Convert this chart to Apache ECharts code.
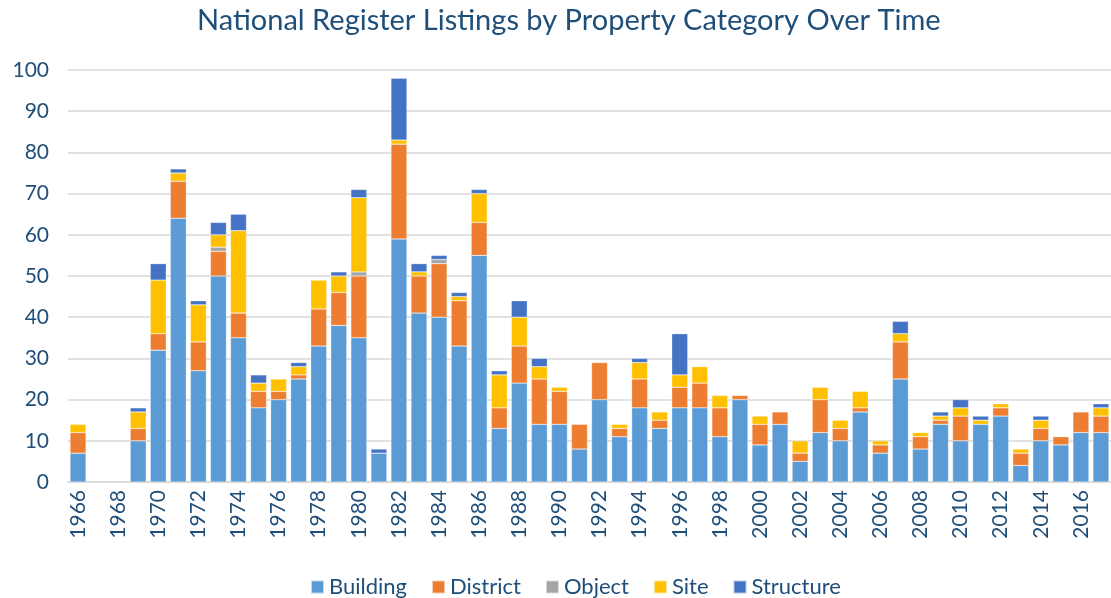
<!DOCTYPE html>
<html>
<head>
<meta charset="utf-8">
<script src="https://cdn.jsdelivr.net/npm/echarts@6/dist/echarts.min.js"></script>
<style>
  html, body { margin: 0; padding: 0; background: #fff; }
  #chart { width: 1111px; height: 598px; }
</style>
</head>
<body>
<div id="chart"></div>
<script>
const years = []
for (let y = 1966; y <= 2017; y++) years.push(String(y))

// values, 1966..2017
const building = [7, 0, 0, 10, 32, 64, 27, 50, 35, 18, 20, 25, 33, 38, 35, 7, 59, 41, 40, 33, 55, 13, 24, 14, 14, 8, 20, 11, 18, 13, 18, 18, 11, 20, 9, 14, 5, 12, 10, 17, 7, 25, 8, 14, 10, 14, 16, 4, 10, 9, 12, 12]
const district = [5, 0, 0, 3, 4, 9, 7, 6, 6, 4, 2, 1, 9, 8, 15, 0, 23, 9, 13, 11, 8, 5, 9, 11, 8, 6, 9, 2, 7, 2, 5, 6, 7, 1, 5, 3, 2, 8, 3, 1, 2, 9, 3, 1, 6, 0, 2, 3, 3, 2, 5, 4]
const object = [0, 0, 0, 0, 0, 0, 0, 1, 0, 0, 0, 0, 0, 0, 1, 0, 0, 0, 1, 0, 0, 0, 0, 0, 0, 0, 0, 0, 0, 0, 0, 0, 0, 0, 0, 0, 0, 0, 0, 0, 0, 0, 0, 0, 0, 0, 0, 0, 0, 0, 0, 0]
const site = [2, 0, 0, 4, 13, 2, 9, 3, 20, 2, 3, 2, 7, 4, 18, 0, 1, 1, 0, 1, 7, 8, 7, 3, 1, 0, 0, 1, 4, 2, 3, 4, 3, 0, 2, 0, 3, 3, 2, 4, 1, 2, 1, 1, 2, 1, 1, 1, 2, 0, 0, 2]
const structure = [0, 0, 0, 1, 4, 1, 1, 3, 4, 2, 0, 1, 0, 1, 2, 1, 15, 2, 1, 1, 1, 1, 4, 2, 0, 0, 0, 0, 1, 0, 10, 0, 0, 0, 0, 0, 0, 0, 0, 0, 0, 3, 0, 1, 2, 1, 0, 0, 1, 0, 0, 1]

const seriesDefs = [
  { name: 'Building', data: building, color: '#5B9BD5' },
  { name: 'District', data: district, color: '#ED7D31' },
  { name: 'Object', data: object, color: '#A5A5A5' },
  { name: 'Site', data: site, color: '#FFC000' },
  { name: 'Structure', data: structure, color: '#4472C4' },
]

const textColor = '#1F4E79'
const font = 'Lato, "Open Sans", sans-serif'

const chart = echarts.init(document.getElementById('chart'), null, { renderer: 'canvas' })
chart.setOption({
  animation: false,
  backgroundColor: '#fff',
  textStyle: { fontFamily: font },
  title: {
    text: 'National Register Listings by Property Category Over Time',
    left: 192,
    top: 1,
    textStyle: { color: textColor, fontSize: 29, fontWeight: 'normal', fontFamily: font },
  },
  legend: {
    top: 571,
    left: 305,
    itemWidth: 13,
    itemHeight: 13,
    itemGap: 24,
    icon: 'rect',
    textStyle: { color: textColor, fontSize: 22, fontFamily: font },
    data: seriesDefs.map((s) => s.name),
  },
  grid: { left: 68, right: -3, top: 70, bottom: 116, containLabel: false },
  xAxis: {
    type: 'category',
    data: years,
    axisLine: { lineStyle: { color: '#D9D9D9', width: 1.5 } },
    axisTick: { show: false },
    axisLabel: { interval: 1, rotate: 90, color: textColor, fontSize: 21, margin: 8, fontFamily: font },
  },
  yAxis: {
    type: 'value',
    min: 0,
    max: 100,
    interval: 10,
    axisLine: { show: false },
    axisTick: { show: false },
    axisLabel: { color: textColor, fontSize: 21, margin: 19, fontFamily: font },
    splitLine: { lineStyle: { color: '#D9D9D9', width: 1.5 } },
  },
  series: seriesDefs.map((s) => ({
    name: s.name,
    type: 'bar',
    stack: 'total',
    barWidth: 16,
    data: s.data.map((v) => (v === 0 ? null : v)),
    itemStyle: { color: s.color, borderColor: 'rgba(255,255,255,0.6)', borderWidth: 0.5 },
  })),
})
</script>
</body>
</html>
